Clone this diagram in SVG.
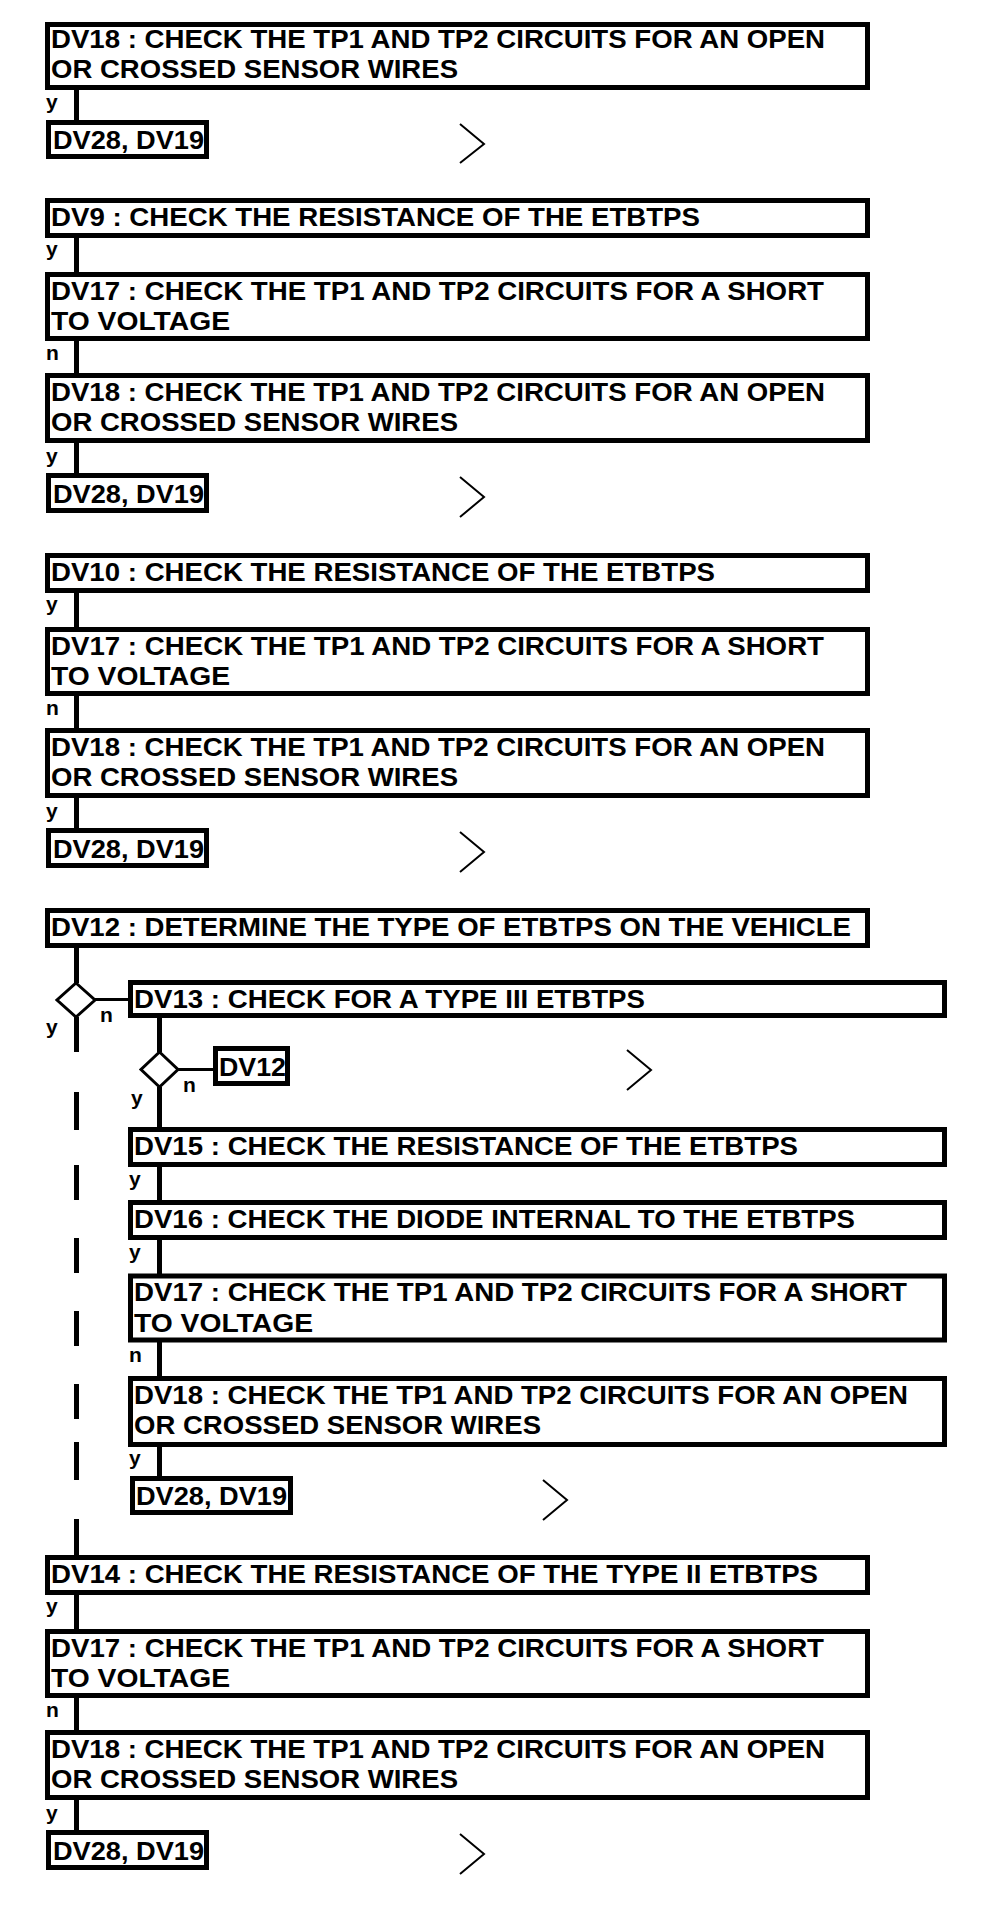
<svg xmlns="http://www.w3.org/2000/svg" width="992" height="1908" viewBox="0 0 992 1908">
<style>
.b{fill:#fff;stroke:#000;stroke-width:5}
.t{font-family:"Liberation Sans",Arial,sans-serif;font-weight:bold;font-size:25px;fill:#000}
.l{font-family:"Liberation Sans",Arial,sans-serif;font-weight:bold;font-size:21px;fill:#000}
.c{stroke:#000;stroke-width:5;fill:none}
.d{stroke:#000;stroke-width:3;fill:none}
.v{stroke:#000;stroke-width:2;fill:none}
.dm{fill:#fff;stroke:#000;stroke-width:3}
</style>
<rect width="992" height="1908" fill="#fff"/>
<g id="connectors">
<line class="c" x1="76.5" y1="87.5" x2="76.5" y2="122.5"/>
<line class="c" x1="76.5" y1="235.5" x2="76.5" y2="274.5"/>
<line class="c" x1="76.5" y1="338.5" x2="76.5" y2="375.5"/>
<line class="c" x1="76.5" y1="440.5" x2="76.5" y2="475.5"/>
<line class="c" x1="76.5" y1="590.5" x2="76.5" y2="629.5"/>
<line class="c" x1="76.5" y1="693.5" x2="76.5" y2="730.5"/>
<line class="c" x1="76.5" y1="795.5" x2="76.5" y2="830.5"/>
<line class="c" x1="76.5" y1="945.5" x2="76.5" y2="983"/>
<line class="c" x1="76.5" y1="1017" x2="76.5" y2="1052"/>
<line class="c" x1="76.5" y1="1092" x2="76.5" y2="1130"/>
<line class="c" x1="76.5" y1="1165" x2="76.5" y2="1200"/>
<line class="c" x1="76.5" y1="1238" x2="76.5" y2="1273"/>
<line class="c" x1="76.5" y1="1311" x2="76.5" y2="1346"/>
<line class="c" x1="76.5" y1="1384" x2="76.5" y2="1419"/>
<line class="c" x1="76.5" y1="1442" x2="76.5" y2="1480"/>
<line class="c" x1="76.5" y1="1519" x2="76.5" y2="1557.5"/>
<line class="d" x1="95" y1="999.5" x2="130.5" y2="999.5"/>
<line class="c" x1="159.5" y1="1015" x2="159.5" y2="1052"/>
<line class="d" x1="178" y1="1069.5" x2="215.5" y2="1069.5"/>
<line class="c" x1="159.5" y1="1087" x2="159.5" y2="1129.5"/>
<line class="c" x1="159.5" y1="1164.5" x2="159.5" y2="1202.5"/>
<line class="c" x1="159.5" y1="1237.5" x2="159.5" y2="1276"/>
<line class="c" x1="159.5" y1="1340" x2="159.5" y2="1378.5"/>
<line class="c" x1="159.5" y1="1444.5" x2="159.5" y2="1478.5"/>
<line class="c" x1="76.5" y1="1592.5" x2="76.5" y2="1631.5"/>
<line class="c" x1="76.5" y1="1695.5" x2="76.5" y2="1732.5"/>
<line class="c" x1="76.5" y1="1797.5" x2="76.5" y2="1832.5"/>
<polygon id="dec1" class="dm" points="76,983 95,1000 76,1017 57,1000"/>
<polygon id="dec2" class="dm" points="159.5,1052 178,1069.5 159.5,1087 141,1069.5"/>
<text class="l" x="46" y="109">y</text>
<text class="l" x="46" y="256">y</text>
<text class="l" x="46" y="360">n</text>
<text class="l" x="46" y="463">y</text>
<text class="l" x="46" y="611">y</text>
<text class="l" x="46" y="715">n</text>
<text class="l" x="46" y="818">y</text>
<text class="l" x="100" y="1022">n</text>
<text class="l" x="46" y="1034">y</text>
<text class="l" x="183" y="1092">n</text>
<text class="l" x="131" y="1105">y</text>
<text class="l" x="129" y="1186">y</text>
<text class="l" x="129" y="1259">y</text>
<text class="l" x="129" y="1362">n</text>
<text class="l" x="129" y="1465">y</text>
<text class="l" x="46" y="1613">y</text>
<text class="l" x="46" y="1717">n</text>
<text class="l" x="46" y="1820">y</text>
<polyline class="v" points="460,124 484,144 460,163"/>
<polyline class="v" points="460,477 484,497 460,517"/>
<polyline class="v" points="460,832 484,852 460,872"/>
<polyline class="v" points="627,1050 651,1070 627,1090"/>
<polyline class="v" points="543,1480 567,1500 543,1520"/>
<polyline class="v" points="460,1834 484,1854 460,1874"/>
</g>
<g id="s1-dv18"><rect class="b" x="47.5" y="24.5" width="820" height="63"/><text class="t" x="51" y="48" textLength="774" lengthAdjust="spacingAndGlyphs">DV18 : CHECK THE TP1 AND TP2 CIRCUITS FOR AN OPEN</text><text class="t" x="51" y="78" textLength="407" lengthAdjust="spacingAndGlyphs">OR CROSSED SENSOR WIRES</text></g>
<g id="s1-dv28"><rect class="b" x="48.5" y="122.5" width="158" height="34"/><text class="t" x="53" y="149" textLength="151" lengthAdjust="spacingAndGlyphs">DV28, DV19</text></g>
<g id="s2-dv9"><rect class="b" x="47.5" y="200.5" width="820" height="35"/><text class="t" x="51" y="226" textLength="649" lengthAdjust="spacingAndGlyphs">DV9 : CHECK THE RESISTANCE OF THE ETBTPS</text></g>
<g id="s2-dv17"><rect class="b" x="47.5" y="274.5" width="820" height="64"/><text class="t" x="51" y="299.5" textLength="773" lengthAdjust="spacingAndGlyphs">DV17 : CHECK THE TP1 AND TP2 CIRCUITS FOR A SHORT</text><text class="t" x="51" y="330" textLength="179" lengthAdjust="spacingAndGlyphs">TO VOLTAGE</text></g>
<g id="s2-dv18"><rect class="b" x="47.5" y="375.5" width="820" height="65"/><text class="t" x="51" y="400.5" textLength="774" lengthAdjust="spacingAndGlyphs">DV18 : CHECK THE TP1 AND TP2 CIRCUITS FOR AN OPEN</text><text class="t" x="51" y="431" textLength="407" lengthAdjust="spacingAndGlyphs">OR CROSSED SENSOR WIRES</text></g>
<g id="s2-dv28"><rect class="b" x="48.5" y="475.5" width="158" height="35"/><text class="t" x="53" y="502.5" textLength="151" lengthAdjust="spacingAndGlyphs">DV28, DV19</text></g>
<g id="s3-dv10"><rect class="b" x="47.5" y="555.5" width="820" height="35"/><text class="t" x="51" y="581" textLength="664" lengthAdjust="spacingAndGlyphs">DV10 : CHECK THE RESISTANCE OF THE ETBTPS</text></g>
<g id="s3-dv17"><rect class="b" x="47.5" y="629.5" width="820" height="64"/><text class="t" x="51" y="654.5" textLength="773" lengthAdjust="spacingAndGlyphs">DV17 : CHECK THE TP1 AND TP2 CIRCUITS FOR A SHORT</text><text class="t" x="51" y="685" textLength="179" lengthAdjust="spacingAndGlyphs">TO VOLTAGE</text></g>
<g id="s3-dv18"><rect class="b" x="47.5" y="730.5" width="820" height="65"/><text class="t" x="51" y="755.5" textLength="774" lengthAdjust="spacingAndGlyphs">DV18 : CHECK THE TP1 AND TP2 CIRCUITS FOR AN OPEN</text><text class="t" x="51" y="786" textLength="407" lengthAdjust="spacingAndGlyphs">OR CROSSED SENSOR WIRES</text></g>
<g id="s3-dv28"><rect class="b" x="48.5" y="830.5" width="158" height="35"/><text class="t" x="53" y="857.5" textLength="151" lengthAdjust="spacingAndGlyphs">DV28, DV19</text></g>
<g id="s4-dv12"><rect class="b" x="47.5" y="910.5" width="820" height="35"/><text class="t" x="51" y="936" textLength="800" lengthAdjust="spacingAndGlyphs">DV12 : DETERMINE THE TYPE OF ETBTPS ON THE VEHICLE</text></g>
<g id="s4-dv13"><rect class="b" x="130.5" y="982.5" width="814" height="33"/><text class="t" x="134" y="1008" textLength="511" lengthAdjust="spacingAndGlyphs">DV13 : CHECK FOR A TYPE III ETBTPS</text></g>
<g id="s4-dv12b"><rect class="b" x="215.5" y="1048.5" width="72" height="35"/><text class="t" x="219" y="1075.5" textLength="67" lengthAdjust="spacingAndGlyphs">DV12</text></g>
<g id="s4-dv15"><rect class="b" x="130.5" y="1129.5" width="814" height="35"/><text class="t" x="134" y="1155" textLength="664" lengthAdjust="spacingAndGlyphs">DV15 : CHECK THE RESISTANCE OF THE ETBTPS</text></g>
<g id="s4-dv16"><rect class="b" x="130.5" y="1202.5" width="814" height="35"/><text class="t" x="134" y="1228" textLength="721" lengthAdjust="spacingAndGlyphs">DV16 : CHECK THE DIODE INTERNAL TO THE ETBTPS</text></g>
<g id="s4-dv17"><rect class="b" x="130.5" y="1276" width="814" height="64"/><text class="t" x="134" y="1301" textLength="773" lengthAdjust="spacingAndGlyphs">DV17 : CHECK THE TP1 AND TP2 CIRCUITS FOR A SHORT</text><text class="t" x="134" y="1331.5" textLength="179" lengthAdjust="spacingAndGlyphs">TO VOLTAGE</text></g>
<g id="s4-dv18"><rect class="b" x="130.5" y="1378.5" width="814" height="66"/><text class="t" x="134" y="1403.5" textLength="774" lengthAdjust="spacingAndGlyphs">DV18 : CHECK THE TP1 AND TP2 CIRCUITS FOR AN OPEN</text><text class="t" x="134" y="1434" textLength="407" lengthAdjust="spacingAndGlyphs">OR CROSSED SENSOR WIRES</text></g>
<g id="s4-dv28"><rect class="b" x="132.5" y="1478.5" width="158" height="34"/><text class="t" x="136" y="1505" textLength="151" lengthAdjust="spacingAndGlyphs">DV28, DV19</text></g>
<g id="s5-dv14"><rect class="b" x="47.5" y="1557.5" width="820" height="35"/><text class="t" x="51" y="1583" textLength="767" lengthAdjust="spacingAndGlyphs">DV14 : CHECK THE RESISTANCE OF THE TYPE II ETBTPS</text></g>
<g id="s5-dv17"><rect class="b" x="47.5" y="1631.5" width="820" height="64"/><text class="t" x="51" y="1656.5" textLength="773" lengthAdjust="spacingAndGlyphs">DV17 : CHECK THE TP1 AND TP2 CIRCUITS FOR A SHORT</text><text class="t" x="51" y="1687" textLength="179" lengthAdjust="spacingAndGlyphs">TO VOLTAGE</text></g>
<g id="s5-dv18"><rect class="b" x="47.5" y="1732.5" width="820" height="65"/><text class="t" x="51" y="1757.5" textLength="774" lengthAdjust="spacingAndGlyphs">DV18 : CHECK THE TP1 AND TP2 CIRCUITS FOR AN OPEN</text><text class="t" x="51" y="1788" textLength="407" lengthAdjust="spacingAndGlyphs">OR CROSSED SENSOR WIRES</text></g>
<g id="s5-dv28"><rect class="b" x="48.5" y="1832.5" width="158" height="35"/><text class="t" x="53" y="1859.5" textLength="151" lengthAdjust="spacingAndGlyphs">DV28, DV19</text></g>
</svg>
